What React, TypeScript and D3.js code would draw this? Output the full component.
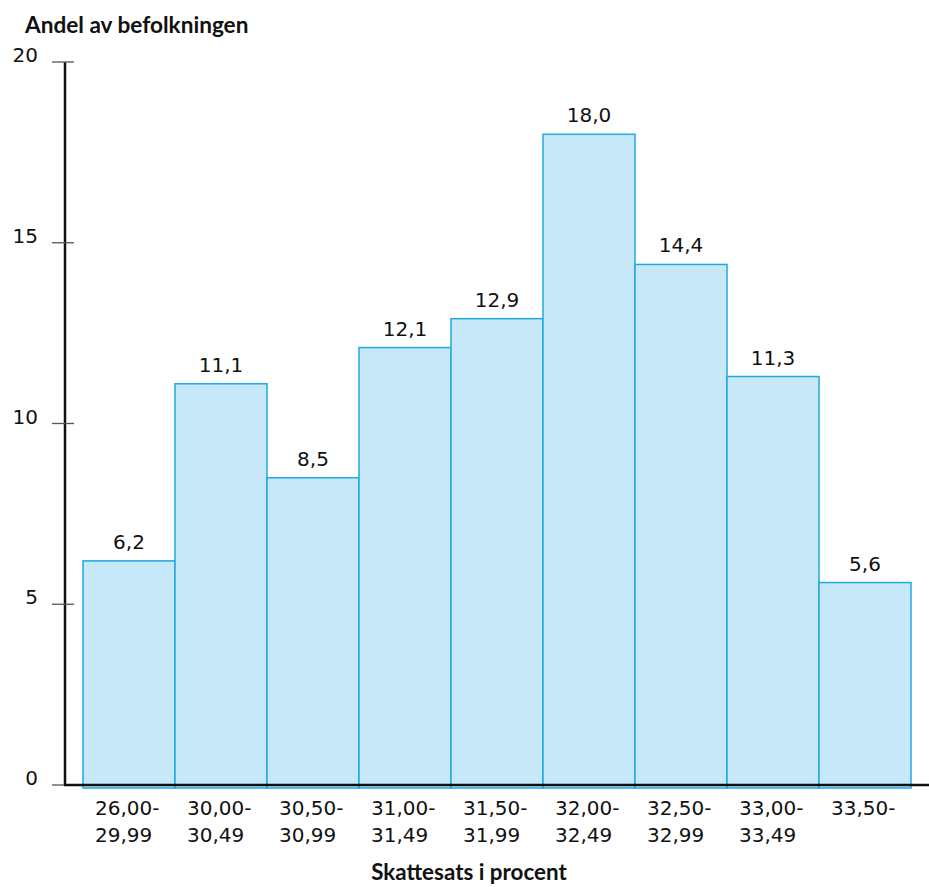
import { useRef, useEffect } from 'react';
import * as d3 from 'd3';

// ---------------------------------------------------------------------------
// Data
// ---------------------------------------------------------------------------
const rangeFrom = ['26,00-', '30,00-', '30,50-', '31,00-', '31,50-', '32,00-', '32,50-', '33,00-', '33,50-'];
const rangeTo = ['29,99', '30,49', '30,99', '31,49', '31,99', '32,49', '32,99', '33,49', ''];
const shares = [6.2, 11.1, 8.5, 12.1, 12.9, 18.0, 14.4, 11.3, 5.6];
const yTicks = [0, 5, 10, 15, 20];

const FILL = '#c6e8f8';
const STROKE = '#1fa9e1';
const INK = '#111111';
const NUM_FONT = '"DejaVu Sans", sans-serif';
const TITLE_FONT = 'Lato, "Noto Sans", sans-serif';

const WIDTH = 929;
const HEIGHT = 887;

export default function App() {
  const svgRef = useRef<SVGSVGElement>(null);

  useEffect(() => {
    const svg = svgRef.current;
    if (!svg) return;
    const sel = d3.select(svg);
    sel.selectAll('*').remove();

    const x = d3.scaleBand<number>().domain(d3.range(shares.length)).range([83, 911]).padding(0);
    const y = d3.scaleLinear().domain([0, 20]).range([785, 62]);
    const axisX = 65;

    // Bars
    sel.append('g')
      .selectAll('rect')
      .data(shares)
      .join('rect')
      .attr('x', (_, i) => x(i)!)
      .attr('y', (d) => y(d))
      .attr('width', x.bandwidth())
      .attr('height', (d) => y(0) - y(d) + 3)
      .attr('fill', FILL)
      .attr('stroke', STROKE)
      .attr('stroke-width', 1.5);

    // Value labels
    sel.append('g')
      .selectAll('text')
      .data(shares)
      .join('text')
      .attr('x', (_, i) => x(i)! + x.bandwidth() / 2)
      .attr('y', (d) => y(d) - 12)
      .attr('text-anchor', 'middle')
      .attr('font-family', NUM_FONT)
      .attr('font-size', 20)
      .attr('fill', INK)
      .text((d) => d.toFixed(1).replace('.', ','));

    // Y axis line + ticks
    sel.append('line')
      .attr('x1', axisX).attr('x2', axisX)
      .attr('y1', y(20)).attr('y2', y(0) + 1)
      .attr('stroke', INK).attr('stroke-width', 2.5);

    const tg = sel.append('g');
    yTicks.forEach((t) => {
      tg.append('line')
        .attr('x1', 52).attr('x2', 74)
        .attr('y1', y(t)).attr('y2', y(t))
        .attr('stroke', '#555').attr('stroke-width', 1.3);
      tg.append('text')
        .attr('x', 38)
        .attr('y', y(t))
        .attr('text-anchor', 'end')
        .attr('font-family', NUM_FONT)
        .attr('font-size', 20)
        .attr('fill', INK)
        .text(String(t));
    });

    // Baseline
    sel.append('line')
      .attr('x1', axisX - 1).attr('x2', WIDTH)
      .attr('y1', y(0)).attr('y2', y(0))
      .attr('stroke', INK).attr('stroke-width', 2.5);

    // Category labels (two lines, left-aligned)
    const cg = sel.append('g');
    rangeFrom.forEach((from, i) => {
      const left = x(i)! + x.bandwidth() / 2 - 34;
      const txt = cg.append('text')
        .attr('font-family', NUM_FONT)
        .attr('font-size', 20)
        .attr('fill', INK);
      txt.append('tspan').attr('x', left).attr('y', 815).text(from);
      if (rangeTo[i]) txt.append('tspan').attr('x', left).attr('y', 842).text(rangeTo[i]);
    });

    // Axis titles
    sel.append('text')
      .attr('x', 25)
      .attr('y', 33)
      .attr('font-family', TITLE_FONT)
      .attr('font-weight', 'bold')
      .attr('font-size', 22.6)
      .attr('fill', INK)
      .text('Andel av befolkningen');

    sel.append('text')
      .attr('x', 469)
      .attr('y', 880)
      .attr('text-anchor', 'middle')
      .attr('font-family', TITLE_FONT)
      .attr('font-weight', 'bold')
      .attr('font-size', 22.4)
      .attr('fill', INK)
      .text('Skattesats i procent');
  }, []);

  return (
    <svg
      ref={svgRef}
      width={WIDTH}
      height={HEIGHT}
      style={{ position: 'absolute', left: 0, top: 0, background: '#fff' }}
    />
  );
}
